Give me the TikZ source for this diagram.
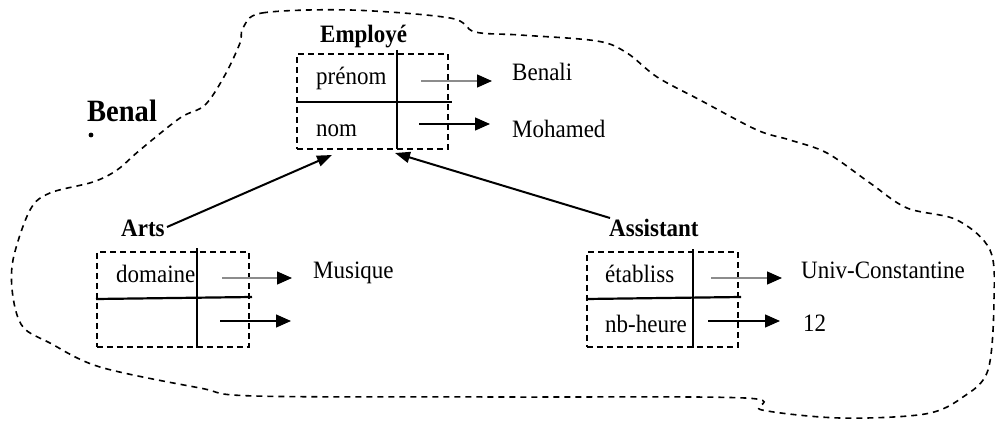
\documentclass[tikz,border=0pt]{standalone}
\usepackage{fontspec}
\setmainfont[FakeStretch=0.92]{Liberation Serif}
\usetikzlibrary{arrows.meta}
\begin{document}
\begin{tikzpicture}[x=1pt,y=-1pt,
  txt/.style={anchor=base west,inner sep=0pt,font=\fontsize{25}{30}\selectfont},
  ttl/.style={anchor=base west,inner sep=0pt,font=\fontsize{25}{30}\selectfont\bfseries},
  framebox/.style={draw,dashed,dash pattern=on 6pt off 4pt,line width=1.7pt},
  divider/.style={line width=2.2pt},
  valarrow/.style={line width=1.3pt,-{Triangle[length=15pt,width=13pt,color=black]}},
  greyarrow/.style={valarrow,draw=black!45},
  isa/.style={line width=2pt,-{Triangle[length=15pt,width=11pt]}},
  blob/.style={dashed,dash pattern=on 6pt off 5pt,line width=1.6pt}]
\useasboundingbox (0,0) rectangle (995,420);

% outline of the object space
\draw[blob] plot[smooth cycle,tension=0.55] coordinates {
  (243,28) (262,13) (350,10) (450,18) (475,32) (520,35) (597,41) (627,53)
  (657,77) (700,100) (757,130) (790,140) (827,153) (870,183) (907,208)
  (957,220) (990,250) (994,300) (988,370) (963,397) (925,414) (840,418)
  (762,410) (745,398) (500,397) (255,396) (200,388) (100,367) (50,343)
  (23,327) (13,297) (13,260) (30,210) (50,193) (93,182) (117,170)
  (140,150) (180,118) (205,105) (225,75) (240,43)};

% object name
\node[anchor=base west,inner sep=0pt,font=\fontsize{31}{36}\selectfont\bfseries] (benal) at (87,121) {Benal};
\fill (91,135) circle (2.4pt);

% ---- Employé ----
\node[ttl] (empT) at (320,42) {Employé};
\node[framebox,minimum width=151pt,minimum height=95pt,inner sep=0pt,anchor=north west] (emp) at (296,53) {};
\draw[divider] (296,102) -- (452,102);
\draw[divider] (397,50) -- (397,149);
\node[txt] (pren) at (316,84) {prénom};
\node[txt] (nom) at (316,136) {nom};
\node[txt] (benali) at (512,81) {Benali};
\node[txt] (moh) at (512,137) {Mohamed};
\coordinate (a1) at (421,81);  \coordinate (t1) at (492,81);
\coordinate (a2) at (419,124); \coordinate (t2) at (490,124);
\draw[greyarrow] (a1) -- (t1);
\draw[valarrow] (a2) -- (t2);

% ---- Arts ----
\node[ttl] (artsT) at (121,236) {Arts};
\node[framebox,minimum width=152pt,minimum height=95pt,inner sep=0pt,anchor=north west] (arts) at (96,251) {};
\draw[divider] (96,299) -- (252,297);
\draw[divider] (197,248) -- (197,348);
\node[txt] (dom) at (116,282) {domaine};
\node[txt] (mus) at (313,278) {Musique};
\coordinate (b1) at (222,278); \coordinate (u1) at (292,278);
\coordinate (b2) at (220,321); \coordinate (u2) at (291,321);
\draw[greyarrow] (b1) -- (u1);
\draw[valarrow] (b2) -- (u2);

% ---- Assistant ----
\node[ttl] (assT) at (609,236) {Assistant};
\node[framebox,minimum width=151pt,minimum height=95pt,inner sep=0pt,anchor=north west] (ass) at (586,251) {};
\draw[divider] (586,299) -- (741,297);
\draw[divider] (693,249) -- (693,348);
\node[txt] (etab) at (605,282) {établiss};
\node[txt] (nbh) at (605,332) {nb-heure};
\node[txt] (univ) at (801,278) {Univ-Constantine};
\node[txt] (douze) at (803,331) {12};
\coordinate (c1) at (711,278); \coordinate (v1) at (782,278);
\coordinate (c2) at (708,321); \coordinate (v2) at (780,321);
\draw[greyarrow] (c1) -- (v1);
\draw[valarrow] (c2) -- (v2);

% ---- inheritance links ----
\coordinate (artsEnd) at (167,227);
\coordinate (empL) at (332,155);
\coordinate (assEnd) at (610,218);
\coordinate (empR) at (395,153);
\draw[isa] (artsEnd) -- (empL);
\draw[isa] (assEnd) -- (empR);
\end{tikzpicture}
\end{document}
